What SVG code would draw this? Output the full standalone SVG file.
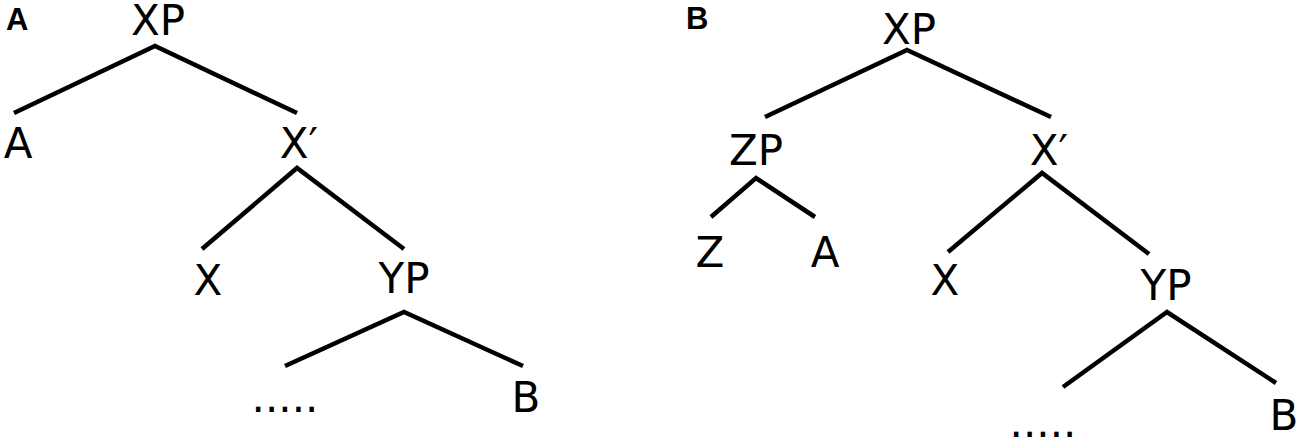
<svg xmlns="http://www.w3.org/2000/svg" width="1299" height="446" viewBox="0 0 1299 446">
<style>
.lbl{font-family:"DejaVu Sans","Liberation Sans",sans-serif;font-size:42px;fill:#000;text-anchor:middle}
.panel{font-family:"Liberation Sans",Arial,sans-serif;font-size:31px;font-weight:bold;fill:#000}
.edge{stroke:#000;stroke-width:4.5;fill:none;stroke-linecap:butt}
</style>
<rect width="1299" height="446" fill="#fff"/>
<text class="panel" x="6" y="30">A</text>
<text class="panel" x="686" y="29">B</text>
<g id="connectors">
<polyline class="edge" points="14,113 155,46 297,113"/>
<polyline class="edge" points="202,249 297,168 404,249"/>
<polyline class="edge" points="285,366 404,312 523,366"/>
<polyline class="edge" points="765,117 907,50 1051,117"/>
<polyline class="edge" points="711,217 756,178 815,217"/>
<polyline class="edge" points="948,252 1042,173 1149,254"/>
<polyline class="edge" points="1063,387 1167,312 1276,383"/>
</g>
<g id="a-xp"><text class="lbl" x="158" y="35">XP</text></g>
<g id="a-a"><text class="lbl" x="18" y="158">A</text></g>
<g id="a-xbar"><text class="lbl" x="299" y="158">X′</text></g>
<g id="a-x"><text class="lbl" x="208" y="295">X</text></g>
<g id="a-yp"><text class="lbl" x="404" y="293">YP</text></g>
<g id="a-dots"><text class="lbl" x="285" y="412">.....</text></g>
<g id="a-b"><text class="lbl" x="526" y="412">B</text></g>
<g id="b-xp"><text class="lbl" x="909" y="44">XP</text></g>
<g id="b-zp"><text class="lbl" x="756" y="165">ZP</text></g>
<g id="b-xbar"><text class="lbl" x="1049" y="165">X′</text></g>
<g id="b-z"><text class="lbl" x="710" y="267">Z</text></g>
<g id="b-a"><text class="lbl" x="825" y="267">A</text></g>
<g id="b-x"><text class="lbl" x="945" y="295">X</text></g>
<g id="b-yp"><text class="lbl" x="1166" y="300">YP</text></g>
<g id="b-dots"><text class="lbl" x="1043" y="437">.....</text></g>
<g id="b-b"><text class="lbl" x="1284" y="430">B</text></g>
</svg>
